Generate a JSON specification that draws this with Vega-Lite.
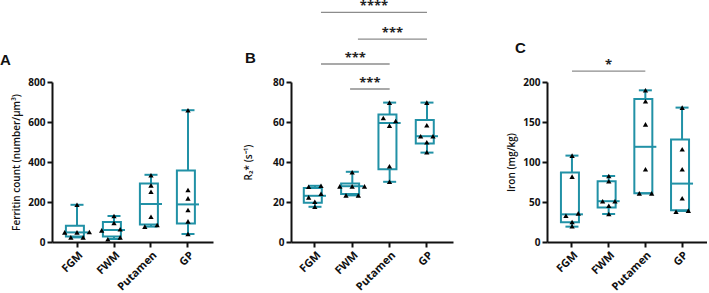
{
  "$schema": "https://vega.github.io/schema/vega-lite/v6.json",
  "background": "white",
  "padding": {"left": 0, "top": 0, "right": 0, "bottom": 0},
  "autosize": {"type": "pad"},
  "bounds": "flush",
  "spacing": 78,
  "datasets": {
    "boxA": [
      {"region": "FGM", "min": 23, "q1": 27, "median": 48, "q3": 81, "max": 186},
      {"region": "FWM", "min": 15, "q1": 27, "median": 60, "q3": 100, "max": 130},
      {"region": "Putamen", "min": 77, "q1": 87, "median": 190, "q3": 293, "max": 336},
      {"region": "GP", "min": 40, "q1": 93, "median": 188, "q3": 358, "max": 659}
    ],
    "ptsA": [
      {"region": "FGM", "value": 186, "col": "0"},
      {"region": "FGM", "value": 48, "col": "-2"},
      {"region": "FGM", "value": 48, "col": "0"},
      {"region": "FGM", "value": 50, "col": "2"},
      {"region": "FGM", "value": 23, "col": "-1"},
      {"region": "FGM", "value": 23, "col": "1"},
      {"region": "FWM", "value": 130, "col": "0"},
      {"region": "FWM", "value": 95, "col": "0"},
      {"region": "FWM", "value": 58, "col": "-2"},
      {"region": "FWM", "value": 64, "col": "1"},
      {"region": "FWM", "value": 14, "col": "-1"},
      {"region": "FWM", "value": 23, "col": "1"},
      {"region": "Putamen", "value": 334, "col": "0"},
      {"region": "Putamen", "value": 283, "col": "0"},
      {"region": "Putamen", "value": 251, "col": "0"},
      {"region": "Putamen", "value": 126, "col": "0"},
      {"region": "Putamen", "value": 77, "col": "-1"},
      {"region": "Putamen", "value": 85, "col": "1"},
      {"region": "GP", "value": 659, "col": "0"},
      {"region": "GP", "value": 260, "col": "0"},
      {"region": "GP", "value": 218, "col": "0"},
      {"region": "GP", "value": 160, "col": "0"},
      {"region": "GP", "value": 103, "col": "0"},
      {"region": "GP", "value": 40, "col": "0"}
    ],
    "boxB": [
      {"region": "FGM", "min": 17.6, "q1": 19.6, "median": 23.1, "q3": 27, "max": 28.1},
      {"region": "FWM", "min": 23.3, "q1": 24, "median": 27.9, "q3": 29.3, "max": 35.1},
      {"region": "Putamen", "min": 30.1, "q1": 36.4, "median": 59.5, "q3": 63.7, "max": 69.7},
      {"region": "GP", "min": 44.7, "q1": 49.2, "median": 52.9, "q3": 61, "max": 69.7}
    ],
    "ptsB": [
      {"region": "FGM", "value": 27.6, "col": "-1"},
      {"region": "FGM", "value": 28.1, "col": "1"},
      {"region": "FGM", "value": 24.1, "col": "1"},
      {"region": "FGM", "value": 22.3, "col": "-1"},
      {"region": "FGM", "value": 20.1, "col": "0"},
      {"region": "FGM", "value": 17.6, "col": "0"},
      {"region": "FWM", "value": 34.9, "col": "0"},
      {"region": "FWM", "value": 27.8, "col": "-2"},
      {"region": "FWM", "value": 27.8, "col": "0"},
      {"region": "FWM", "value": 27.8, "col": "2"},
      {"region": "FWM", "value": 23.3, "col": "-1"},
      {"region": "FWM", "value": 23.3, "col": "1"},
      {"region": "Putamen", "value": 69.7, "col": "0"},
      {"region": "Putamen", "value": 62, "col": "-1"},
      {"region": "Putamen", "value": 58.2, "col": "0"},
      {"region": "Putamen", "value": 60.5, "col": "1"},
      {"region": "Putamen", "value": 37.9, "col": "0"},
      {"region": "Putamen", "value": 30.1, "col": "0"},
      {"region": "GP", "value": 69.7, "col": "0"},
      {"region": "GP", "value": 58.4, "col": "0"},
      {"region": "GP", "value": 52.9, "col": "-1"},
      {"region": "GP", "value": 52.9, "col": "1"},
      {"region": "GP", "value": 49.9, "col": "0"},
      {"region": "GP", "value": 44.9, "col": "0"}
    ],
    "sigB": [
      {"from": 0.16, "to": 3, "mid": 1.58, "y": 114.8, "label": "****"},
      {"from": 1.15, "to": 3, "mid": 2.075, "y": 101.4, "label": "***"},
      {"from": 0.16, "to": 2, "mid": 1.08, "y": 89, "label": "***"},
      {"from": 0.94, "to": 2, "mid": 1.47, "y": 76.5, "label": "***"}
    ],
    "boxC": [
      {"region": "FGM", "min": 19.2, "q1": 24.6, "median": 34.6, "q3": 87, "max": 108},
      {"region": "FWM", "min": 35, "q1": 43, "median": 51, "q3": 76, "max": 82.5},
      {"region": "Putamen", "min": 60.8, "q1": 60.8, "median": 119, "q3": 178.8, "max": 189.6},
      {"region": "GP", "min": 38.8, "q1": 39.6, "median": 73, "q3": 128, "max": 168}
    ],
    "ptsC": [
      {"region": "FGM", "value": 108, "col": "0"},
      {"region": "FGM", "value": 81.7, "col": "0"},
      {"region": "FGM", "value": 32.9, "col": "-1"},
      {"region": "FGM", "value": 35.8, "col": "1"},
      {"region": "FGM", "value": 25, "col": "0"},
      {"region": "FGM", "value": 19.6, "col": "0"},
      {"region": "FWM", "value": 82.5, "col": "0"},
      {"region": "FWM", "value": 76, "col": "0"},
      {"region": "FWM", "value": 51, "col": "-1"},
      {"region": "FWM", "value": 51, "col": "1"},
      {"region": "FWM", "value": 45.4, "col": "0"},
      {"region": "FWM", "value": 35, "col": "0"},
      {"region": "Putamen", "value": 189.6, "col": "0"},
      {"region": "Putamen", "value": 176, "col": "0"},
      {"region": "Putamen", "value": 147, "col": "0"},
      {"region": "Putamen", "value": 91, "col": "0"},
      {"region": "Putamen", "value": 60.8, "col": "-1"},
      {"region": "Putamen", "value": 60.8, "col": "1"},
      {"region": "GP", "value": 168, "col": "0"},
      {"region": "GP", "value": 116, "col": "0"},
      {"region": "GP", "value": 91, "col": "0"},
      {"region": "GP", "value": 54.6, "col": "0"},
      {"region": "GP", "value": 37.9, "col": "-1"},
      {"region": "GP", "value": 39.2, "col": "1"}
    ],
    "sigC": [
      {"from": 0, "to": 2, "mid": 1, "y": 213.5, "label": "*"}
    ]
  },
  "hconcat": [
    {
      "width": 161,
      "height": 160,
      "title": {"text": "A", "anchor": "start", "frame": "group", "dx": -52, "offset": 9, "font": "Liberation Sans", "fontSize": 15, "fontWeight": "bold", "color": "#111"},
      "data": {"name": "boxA"},
      "encoding": {
        "x": {"field": "region", "type": "nominal", "scale": {"domain": ["FGM", "FWM", "Putamen", "GP"], "paddingInner": 0, "paddingOuter": 0.176, "align": 0.5}, "axis": {"title": null}}
      },
      "layer": [
        {"mark": {"type": "rule", "color": "#2191a6", "strokeWidth": 2},
         "encoding": {"y": {"field": "min", "type": "quantitative", "scale": {"domain": [0, 800], "nice": false}, "axis": {"title": "Ferritin count (number/μm³)", "values": [0, 200, 400, 600, 800], "titlePadding": 6}}, "y2": {"field": "max"}}},
        {"mark": {"type": "bar", "fill": "white", "stroke": "#2191a6", "strokeWidth": 2, "width": {"band": 0.6}},
         "encoding": {"y": {"field": "q1", "type": "quantitative", "scale": {"domain": [0, 800], "nice": false}, "axis": {"title": "Ferritin count (number/μm³)", "values": [0, 200, 400, 600, 800], "titlePadding": 6}}, "y2": {"field": "q3"}}},
        {"mark": {"type": "tick", "color": "#2191a6", "size": 22, "thickness": 2, "opacity": 1},
         "encoding": {"y": {"field": "median", "type": "quantitative", "scale": {"domain": [0, 800], "nice": false}, "axis": {"title": "Ferritin count (number/μm³)", "values": [0, 200, 400, 600, 800], "titlePadding": 6}}}},
        {"mark": {"type": "tick", "color": "#2191a6", "size": 13, "thickness": 2, "opacity": 1},
         "encoding": {"y": {"field": "min", "type": "quantitative", "scale": {"domain": [0, 800], "nice": false}, "axis": {"title": "Ferritin count (number/μm³)", "values": [0, 200, 400, 600, 800], "titlePadding": 6}}}},
        {"mark": {"type": "tick", "color": "#2191a6", "size": 13, "thickness": 2, "opacity": 1},
         "encoding": {"y": {"field": "max", "type": "quantitative", "scale": {"domain": [0, 800], "nice": false}, "axis": {"title": "Ferritin count (number/μm³)", "values": [0, 200, 400, 600, 800], "titlePadding": 6}}}},
        {"data": {"name": "ptsA"},
         "mark": {"type": "point", "shape": "triangle-up", "filled": true, "color": "#000", "size": 28, "opacity": 1},
         "encoding": {
           "xOffset": {"field": "col", "type": "nominal", "scale": {"type": "point", "domain": ["-2", "-1", "0", "1", "2"], "padding": 3.3}},
           "y": {"field": "value", "type": "quantitative", "scale": {"domain": [0, 800], "nice": false}, "axis": {"title": "Ferritin count (number/μm³)", "values": [0, 200, 400, 600, 800], "titlePadding": 6}}}}
      ]
    },
    {
      "width": 162,
      "height": 160,
      "title": {"text": "B", "anchor": "start", "frame": "group", "dx": -46, "offset": -66, "font": "Liberation Sans", "fontSize": 15, "fontWeight": "bold", "color": "#111"},
      "resolve": {"scale": {"x": "independent"}},
      "layer": [
        {
          "data": {"name": "boxB"},
          "encoding": {
            "x": {"field": "region", "type": "nominal", "scale": {"domain": ["FGM", "FWM", "Putamen", "GP"], "paddingInner": 0, "paddingOuter": 0.17, "align": 0.42}, "axis": {"title": null}}
          },
          "layer": [
            {"mark": {"type": "rule", "color": "#2191a6", "strokeWidth": 2},
             "encoding": {"y": {"field": "min", "type": "quantitative", "scale": {"domain": [0, 80], "nice": false}, "axis": {"title": "R₂* (s⁻¹)", "values": [0, 20, 40, 60, 80], "titlePadding": 19}}, "y2": {"field": "max"}}},
            {"mark": {"type": "bar", "fill": "white", "stroke": "#2191a6", "strokeWidth": 2, "width": {"band": 0.6}},
             "encoding": {"y": {"field": "q1", "type": "quantitative", "scale": {"domain": [0, 80], "nice": false}, "axis": {"title": "R₂* (s⁻¹)", "values": [0, 20, 40, 60, 80], "titlePadding": 19}}, "y2": {"field": "q3"}}},
            {"mark": {"type": "tick", "color": "#2191a6", "size": 22, "thickness": 2, "opacity": 1},
             "encoding": {"y": {"field": "median", "type": "quantitative", "scale": {"domain": [0, 80], "nice": false}, "axis": {"title": "R₂* (s⁻¹)", "values": [0, 20, 40, 60, 80], "titlePadding": 19}}}},
            {"mark": {"type": "tick", "color": "#2191a6", "size": 13, "thickness": 2, "opacity": 1},
             "encoding": {"y": {"field": "min", "type": "quantitative", "scale": {"domain": [0, 80], "nice": false}, "axis": {"title": "R₂* (s⁻¹)", "values": [0, 20, 40, 60, 80], "titlePadding": 19}}}},
            {"mark": {"type": "tick", "color": "#2191a6", "size": 13, "thickness": 2, "opacity": 1},
             "encoding": {"y": {"field": "max", "type": "quantitative", "scale": {"domain": [0, 80], "nice": false}, "axis": {"title": "R₂* (s⁻¹)", "values": [0, 20, 40, 60, 80], "titlePadding": 19}}}},
            {"data": {"name": "ptsB"},
             "mark": {"type": "point", "shape": "triangle-up", "filled": true, "color": "#000", "size": 28, "opacity": 1},
             "encoding": {
               "xOffset": {"field": "col", "type": "nominal", "scale": {"type": "point", "domain": ["-2", "-1", "0", "1", "2"], "padding": 3.3}},
               "y": {"field": "value", "type": "quantitative", "scale": {"domain": [0, 80], "nice": false}, "axis": {"title": "R₂* (s⁻¹)", "values": [0, 20, 40, 60, 80], "titlePadding": 19}}}}
          ]
        },
        {
          "data": {"name": "sigB"},
          "encoding": {
            "x": {"field": "from", "type": "quantitative", "scale": {"domain": [-0.643, 3.697], "nice": false, "zero": false}, "axis": null}
          },
          "layer": [
            {"mark": {"type": "rule", "color": "#8c8c8c", "strokeWidth": 1.3},
             "encoding": {"x2": {"field": "to"}, "y": {"field": "y", "type": "quantitative", "scale": {"domain": [0, 80], "nice": false}, "axis": {"title": "R₂* (s⁻¹)", "values": [0, 20, 40, 60, 80], "titlePadding": 19}}}},
            {"mark": {"type": "text", "font": "Open Sans", "fontSize": 13, "fontWeight": "bold", "color": "#222", "baseline": "alphabetic", "dy": -2},
             "encoding": {"x": {"field": "mid", "type": "quantitative", "scale": {"domain": [-0.643, 3.697], "nice": false, "zero": false}, "axis": null},
                          "y": {"field": "y", "type": "quantitative", "scale": {"domain": [0, 80], "nice": false}, "axis": {"title": "R₂* (s⁻¹)", "values": [0, 20, 40, 60, 80], "titlePadding": 19}},
                          "text": {"field": "label"}}}
          ]
        }
      ]
    },
    {
      "width": 176,
      "height": 160,
      "title": {"text": "C", "anchor": "start", "frame": "group", "dx": -16, "offset": 3, "font": "Liberation Sans", "fontSize": 15, "fontWeight": "bold", "color": "#111"},
      "resolve": {"scale": {"x": "independent"}},
      "layer": [
        {
          "data": {"name": "boxC"},
          "encoding": {
            "x": {"field": "region", "type": "nominal", "scale": {"domain": ["FGM", "FWM", "Putamen", "GP"], "range": [16, 176], "paddingInner": 0, "paddingOuter": 0.18, "align": 0.5}, "axis": {"title": null}}
          },
          "layer": [
            {"mark": {"type": "rule", "color": "#2191a6", "strokeWidth": 2},
             "encoding": {"y": {"field": "min", "type": "quantitative", "scale": {"domain": [0, 200], "nice": false}, "axis": {"title": "Iron (mg/kg)", "values": [0, 50, 100, 150, 200], "titlePadding": 6, "offset": -16}}, "y2": {"field": "max"}}},
            {"mark": {"type": "bar", "fill": "white", "stroke": "#2191a6", "strokeWidth": 2, "width": {"band": 0.6}},
             "encoding": {"y": {"field": "q1", "type": "quantitative", "scale": {"domain": [0, 200], "nice": false}, "axis": {"title": "Iron (mg/kg)", "values": [0, 50, 100, 150, 200], "titlePadding": 6, "offset": -16}}, "y2": {"field": "q3"}}},
            {"mark": {"type": "tick", "color": "#2191a6", "size": 22, "thickness": 2, "opacity": 1},
             "encoding": {"y": {"field": "median", "type": "quantitative", "scale": {"domain": [0, 200], "nice": false}, "axis": {"title": "Iron (mg/kg)", "values": [0, 50, 100, 150, 200], "titlePadding": 6, "offset": -16}}}},
            {"mark": {"type": "tick", "color": "#2191a6", "size": 13, "thickness": 2, "opacity": 1},
             "encoding": {"y": {"field": "min", "type": "quantitative", "scale": {"domain": [0, 200], "nice": false}, "axis": {"title": "Iron (mg/kg)", "values": [0, 50, 100, 150, 200], "titlePadding": 6, "offset": -16}}}},
            {"mark": {"type": "tick", "color": "#2191a6", "size": 13, "thickness": 2, "opacity": 1},
             "encoding": {"y": {"field": "max", "type": "quantitative", "scale": {"domain": [0, 200], "nice": false}, "axis": {"title": "Iron (mg/kg)", "values": [0, 50, 100, 150, 200], "titlePadding": 6, "offset": -16}}}},
            {"data": {"name": "ptsC"},
             "mark": {"type": "point", "shape": "triangle-up", "filled": true, "color": "#000", "size": 28, "opacity": 1},
             "encoding": {
               "xOffset": {"field": "col", "type": "nominal", "scale": {"type": "point", "domain": ["-2", "-1", "0", "1", "2"], "padding": 3.3}},
               "y": {"field": "value", "type": "quantitative", "scale": {"domain": [0, 200], "nice": false}, "axis": {"title": "Iron (mg/kg)", "values": [0, 50, 100, 150, 200], "titlePadding": 6, "offset": -16}}}}
          ]
        },
        {
          "data": {"name": "sigC"},
          "encoding": {
            "x": {"field": "from", "type": "quantitative", "scale": {"domain": [-0.682, 3.682], "range": [16, 176], "nice": false, "zero": false}, "axis": null}
          },
          "layer": [
            {"mark": {"type": "rule", "color": "#8c8c8c", "strokeWidth": 1.3},
             "encoding": {"x2": {"field": "to"}, "y": {"field": "y", "type": "quantitative", "scale": {"domain": [0, 200], "nice": false}, "axis": {"title": "Iron (mg/kg)", "values": [0, 50, 100, 150, 200], "titlePadding": 6, "offset": -16}}}},
            {"mark": {"type": "text", "font": "Open Sans", "fontSize": 13, "fontWeight": "bold", "color": "#222", "baseline": "alphabetic", "dy": -2},
             "encoding": {"x": {"field": "mid", "type": "quantitative", "scale": {"domain": [-0.682, 3.682], "range": [16, 176], "nice": false, "zero": false}, "axis": null},
                          "y": {"field": "y", "type": "quantitative", "scale": {"domain": [0, 200], "nice": false}, "axis": {"title": "Iron (mg/kg)", "values": [0, 50, 100, 150, 200], "titlePadding": 6, "offset": -16}},
                          "text": {"field": "label"}}}
          ]
        }
      ]
    }
  ],
  "config": {
    "view": {"stroke": null},
    "font": "Open Sans",
    "axis": {
      "grid": false,
      "labelOverlap": false,
      "domainColor": "#111",
      "domainWidth": 2,
      "tickColor": "#111",
      "tickWidth": 2,
      "tickSize": 5,
      "labelPadding": 2,
      "labelFont": "Open Sans",
      "labelFontSize": 10,
      "labelFontWeight": "bold",
      "labelColor": "#111",
      "titleFont": "Open Sans",
      "titleFontSize": 10,
      "titleFontWeight": 600,
      "titleColor": "#111"
    },
    "axisX": {"labelAngle": -45, "labelFontSize": 11}
  }
}
